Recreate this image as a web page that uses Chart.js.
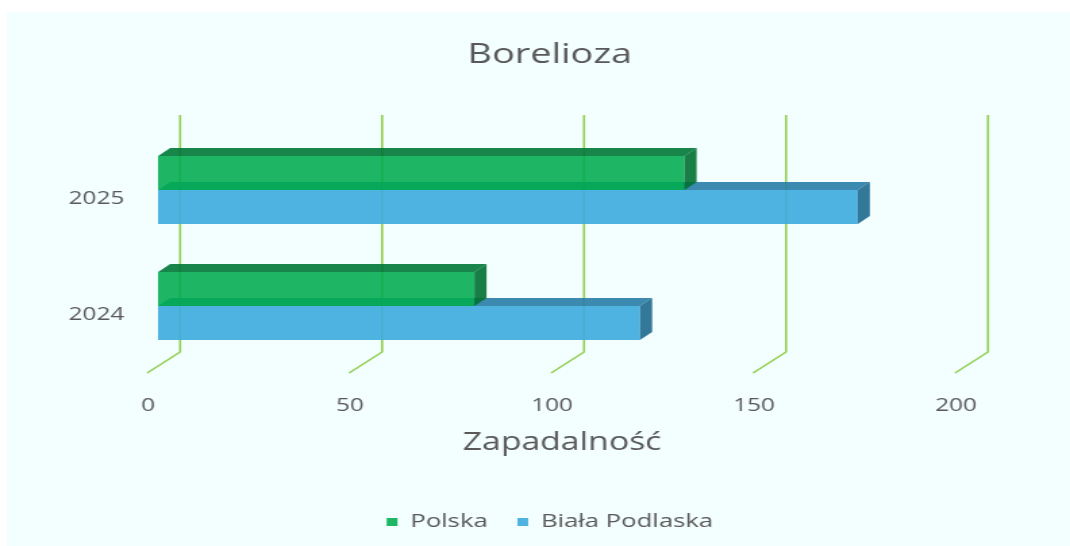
<!DOCTYPE html>
<html>
<head>
<meta charset="utf-8">
<script src="https://cdn.jsdelivr.net/npm/chart.js@4"></script>
<style>
  html, body { margin: 0; padding: 0; background: #ffffff; overflow: hidden; }
  #wrap { width: 1070px; height: 546px; position: relative; }
  /* the picture is stretched sideways, so the chart is drawn narrow and widened */
  #borelioza { position: absolute; left: 0; top: 0; transform: scaleX(1.351); transform-origin: 0 0; }
</style>
</head>
<body>
<div id="wrap">
  <canvas id="borelioza" width="792" height="546"></canvas>
</div>
<script>
const years = ['2025', '2024'];
const polska = [130.3, 78.3];
const bialaPodlaska = [173.2, 119.3];
const xTicks = [0, 50, 100, 150, 200];

const seriesNames = ['Polska', 'Biała Podlaska'];
const frontColors = ['rgba(0, 172, 78, 0.88)', 'rgba(61, 171, 223, 0.9)'];
const topColors = ['rgba(0, 120, 55, 0.9)', 'rgba(45, 128, 168, 0.92)'];
const sideColors = ['rgba(0, 112, 50, 0.9)', 'rgba(40, 112, 148, 0.95)'];

const grey = '#595959';
const font = 'Open Sans';

// depth of the bars and of the back wall (pixels)
const DX = 9, DY = 8;
const WALL_DX = 16.3, FLOOR_DX = -8.1;

const wall = {
    id: 'wall',
    beforeDraw(chart) {
        const ctx = chart.ctx;
        ctx.save();
        ctx.fillStyle = '#f3fefe';
        ctx.fillRect(5.2, 12, chart.width, chart.height);
        ctx.restore();
    },
    beforeDatasetsDraw(chart) {
        const ctx = chart.ctx;
        const x = chart.scales.x;
        const area = chart.chartArea;
        ctx.save();
        ctx.strokeStyle = '#92d050';
        ctx.lineWidth = 1.6;
        x.ticks.forEach(t => {
            const px = x.getPixelForValue(t.value);
            ctx.beginPath();
            ctx.moveTo(px + WALL_DX, area.top - 17);
            ctx.lineTo(px + WALL_DX, area.bottom - 12);
            ctx.lineTo(px + FLOOR_DX, area.bottom + 9);
            ctx.stroke();
        });
        ctx.restore();
    },
    afterDatasetDraw(chart, args) {
        const ctx = chart.ctx;
        const i = args.index;
        ctx.save();
        args.meta.data.forEach(bar => {
            const {x, y, base, height} = bar.getProps(['x', 'y', 'base', 'height'], true);
            const top = y - height / 2, bottom = y + height / 2;
            ctx.fillStyle = topColors[i];
            ctx.beginPath();
            ctx.moveTo(base, top);
            ctx.lineTo(base + DX, top - DY);
            ctx.lineTo(x + DX, top - DY);
            ctx.lineTo(x, top);
            ctx.closePath();
            ctx.fill();
            ctx.fillStyle = sideColors[i];
            ctx.beginPath();
            ctx.moveTo(x, top);
            ctx.lineTo(x + DX, top - DY);
            ctx.lineTo(x + DX, bottom - DY);
            ctx.lineTo(x, bottom);
            ctx.closePath();
            ctx.fill();
        });
        ctx.restore();
    }
};

const ctx = document.getElementById('borelioza').getContext('2d');
const chart = new Chart(ctx, {
    type: 'bar',
    data: {
        labels: years,
        datasets: [{
            label: seriesNames[0],
            data: polska,
            backgroundColor: frontColors[0],
            borderWidth: 0
        }, {
            label: seriesNames[1],
            data: bialaPodlaska,
            backgroundColor: frontColors[1],
            borderWidth: 0
        }]
    },
    options: {
        indexAxis: 'y',
        responsive: false,
        animation: false,
        devicePixelRatio: 1,
        categoryPercentage: 0.586,
        barPercentage: 1,
        layout: { padding: { left: 48, right: 26, top: 0, bottom: 4.5 } },
        scales: {
            x: {
                min: 0,
                max: 200,
                afterBuildTicks: s => { s.ticks = xTicks.map(v => ({ value: v })); },
                afterFit: s => { s.height = 126.5; },
                grid: { display: false, drawTicks: false },
                border: { display: false },
                ticks: { color: grey, font: { family: font, size: 18 }, padding: 31, labelOffset: -7.4 },
                title: {
                    display: true,
                    text: 'Zapadalność',
                    color: grey,
                    font: { family: font, size: 25 },
                    padding: { top: 0, bottom: 32.5 }
                }
            },
            y: {
                afterFit: s => { s.width = 69; },
                grid: { display: false, drawTicks: false },
                border: { display: false },
                ticks: { color: grey, font: { family: font, size: 18 }, padding: 25, labelOffset: 9 }
            },
            // empty room on the right, where the 3D wall sticks out
            room: {
                type: 'linear',
                position: 'right',
                display: true,
                afterFit: s => { s.width = 51; },
                grid: { display: false, drawTicks: false },
                border: { display: false },
                ticks: { display: false }
            }
        },
        plugins: {
            title: {
                display: true,
                text: 'Borelioza',
                color: grey,
                font: { family: font, size: 28, weight: 'normal' },
                padding: { top: 38, bottom: 60.4 }
            },
            legend: {
                position: 'bottom',
                labels: {
                    color: grey,
                    font: { family: font, size: 19 },
                    boxWidth: 8,
                    boxHeight: 8,
                    padding: 22
                }
            },
            tooltip: { enabled: false }
        }
    },
    plugins: [wall]
});
</script>
</body>
</html>
